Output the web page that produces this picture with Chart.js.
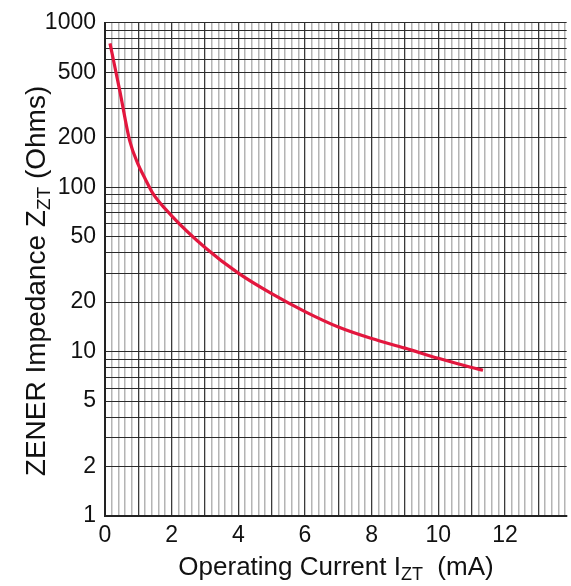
<!DOCTYPE html>
<html>
<head>
<meta charset="utf-8">
<script src="https://cdn.jsdelivr.net/npm/chart.js@4/dist/chart.umd.min.js"></script>
<style>
  html, body { margin: 0; padding: 0; background: #fff; }
  #wrap { width: 571px; height: 586px; }
</style>
</head>
<body>
<div id="wrap"><canvas id="chart"></canvas></div>
<script>
// curve: current (mA) vs impedance (ohms)
const currentMA = [0.15, 0.45, 0.74, 0.99, 1.2, 1.43, 2, 3, 4, 5, 6, 7, 8, 9, 10, 11, 11.34];
const impedance = [750, 380, 192, 138, 113, 92, 67, 43, 30, 22.5, 17.5, 14.1, 12.0, 10.5, 9.1, 8.0, 7.7];

// axis ticks
const xLabels = [0, 2, 4, 6, 8, 10, 12];
const yLabels = [1, 2, 5, 10, 20, 50, 100, 200, 500, 1000];
const yGrid = [1, 2, 3, 4, 5, 6, 7, 8, 9, 10, 20, 30, 40, 50, 60, 70, 80, 90, 100,
               200, 300, 400, 500, 600, 700, 800, 900, 1000];

const FONT = 'Arial, "Liberation Sans", sans-serif';

function isWhole(v) {
    return Math.abs(v - Math.round(v)) < 1e-6;
}

// axis titles with subscripts
const titlePlugin = {
    id: 'titles',
    afterDraw(chart) {
        const ctx = chart.ctx;
        ctx.save();
        ctx.fillStyle = '#111';
        ctx.textBaseline = 'alphabetic';

        function drawParts(parts, cx, cy) {
            let total = 0;
            parts.forEach(p => {
                ctx.font = p.size + 'px ' + FONT;
                p.w = ctx.measureText(p.text).width;
                total += p.w;
            });
            let x = cx - total / 2;
            parts.forEach(p => {
                ctx.font = p.size + 'px ' + FONT;
                ctx.fillText(p.text, x, cy + (p.dy || 0));
                x += p.w;
            });
        }

        // x title
        drawParts([
            {text: 'Operating Current I', size: 26},
            {text: 'ZT', size: 18, dy: 5},
            {text: '  (mA)', size: 26}
        ], 336, 575);

        // y title
        ctx.translate(45, 281);
        ctx.rotate(-Math.PI / 2);
        drawParts([
            {text: 'ZENER Impedance Z', size: 28},
            {text: 'ZT', size: 19, dy: 5},
            {text: ' (Ohms)', size: 28}
        ], 0, 0);
        ctx.restore();
    }
};

const ctx = document.getElementById('chart').getContext('2d');
new Chart(ctx, {
    type: 'line',
    data: {
        datasets: [{
            data: currentMA.map((x, i) => ({x: x, y: impedance[i]})),
            borderColor: '#e3173e',
            borderWidth: 3.2,
            pointRadius: 0,
            cubicInterpolationMode: 'monotone',
            fill: false
        }]
    },
    options: {
        responsive: true,
        maintainAspectRatio: false,
        animation: false,
        layout: { padding: { top: 13, right: 0, bottom: 0, left: 0 } },
        plugins: {
            legend: { display: false },
            tooltip: { enabled: false }
        },
        scales: {
            x: {
                type: 'linear',
                min: 0,
                max: 13.85,
                afterFit: s => { s.height = 70; },
                ticks: {
                    stepSize: 0.2,
                    autoSkip: false,
                    maxRotation: 0,
                    includeBounds: false,
                    padding: 6,
                    color: '#111',
                    font: { family: FONT, size: 23 },
                    callback: v => (isWhole(v) && xLabels.includes(Math.round(v))) ? String(Math.round(v)) : ''
                },
                grid: {
                    drawTicks: false,
                    color: c => isWhole(c.tick.value) ? '#3a3a3a' : '#b4b4b4',
                    lineWidth: c => isWhole(c.tick.value) ? 1.3 : 1.5
                },
                border: { color: '#222', width: 2 }
            },
            y: {
                type: 'logarithmic',
                min: 1,
                max: 1000,
                afterFit: s => { s.width = 105; },
                afterBuildTicks: s => { s.ticks = yGrid.map(v => ({value: v})); },
                ticks: {
                    autoSkip: false,
                    padding: 9,
                    color: '#111',
                    font: { family: FONT, size: 23 },
                    callback: v => yLabels.includes(v) ? String(v) : ''
                },
                grid: {
                    drawTicks: false,
                    color: '#2a2a2a',
                    lineWidth: 1
                },
                border: { color: '#222', width: 2 }
            }
        }
    },
    plugins: [titlePlugin]
});
</script>
</body>
</html>
